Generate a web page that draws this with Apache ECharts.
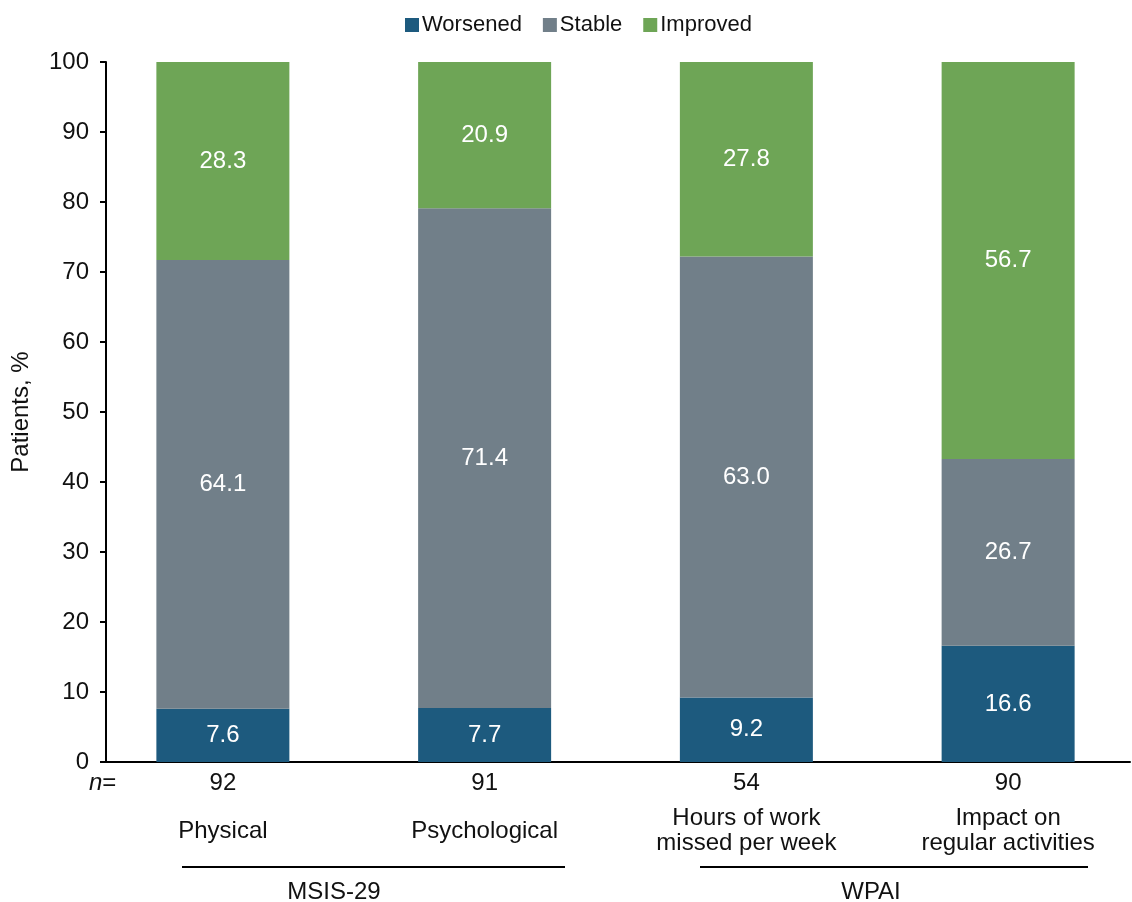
<!DOCTYPE html>
<html>
<head>
<meta charset="utf-8">
<script src="https://cdn.jsdelivr.net/npm/echarts@6/dist/echarts.min.js"></script>
<style>
html,body{margin:0;padding:0;background:#fff;}
#chart{width:1132px;height:902px;}
</style>
</head>
<body>
<div id="chart"></div>
<script>
var categories = ['Physical', 'Psychological', 'Hours of work\nmissed per week', 'Impact on\nregular activities'];
var nValues = ['92', '91', '54', '90'];
var worsened = [7.6, 7.7, 9.2, 16.6];
var stable = [64.1, 71.4, 63.0, 26.7];
var improved = [28.3, 20.9, 27.8, 56.7];
var yTicks = [0, 10, 20, 30, 40, 50, 60, 70, 80, 90, 100];
var groups = ['MSIS-29', 'WPAI'];

var FONT = '"Liberation Sans", Arial, Helvetica, sans-serif';
var colors = { w: '#1d5a7e', s: '#717f89', i: '#6ea556' };

var chart = echarts.init(document.getElementById('chart'));

function barSeries(name, data, color) {
  return {
    name: name,
    type: 'bar',
    stack: 'total',
    xAxisIndex: 0,
    yAxisIndex: 0,
    barWidth: 133,
    data: data,
    itemStyle: { color: color },
    label: {
      show: true,
      position: 'inside',
      color: '#fff',
      fontFamily: FONT,
      fontSize: 24,
      formatter: function (p) { return p.value.toFixed(1); }
    },
    emphasis: { disabled: true }
  };
}

var option = {
  animation: false,
  textStyle: { fontFamily: FONT },
  legend: {
    top: 9,
    left: 400,
    itemWidth: 14,
    itemHeight: 14,
    itemGap: 21,
    icon: 'rect',
    textStyle: { fontFamily: FONT, fontSize: 22, color: '#111', padding: [0, 0, 0, -2] },
    data: ['Worsened', 'Stable', 'Improved']
  },
  grid: [
    { left: 92, width: 1047, top: 62, bottom: 140, containLabel: false, outerBoundsMode: 'none' },
    { left: 106, right: 2, top: 62, bottom: 140, containLabel: false, outerBoundsMode: 'none' }
  ],
  xAxis: [
    {
      type: 'category', gridIndex: 0, data: categories,
      axisLine: { show: false }, axisTick: { show: false },
      axisLabel: {
        fontFamily: FONT, fontSize: 24, color: '#111', margin: 9,
        formatter: function (v, i) { return nValues[i]; }
      }
    },
    {
      type: 'category', gridIndex: 0, data: categories, position: 'bottom',
      axisLine: { show: false }, axisTick: { show: false },
      axisLabel: {
        fontFamily: FONT, fontSize: 24, color: '#111', margin: 69,
        lineHeight: 25, verticalAlign: 'middle'
      }
    },
    {
      type: 'value', gridIndex: 1, min: 0, max: 1,
      axisLine: { show: true, lineStyle: { color: '#000', width: 2 } },
      axisTick: { show: false }, axisLabel: { show: false }, splitLine: { show: false }
    }
  ],
  yAxis: [
    {
      type: 'value', gridIndex: 0, min: 0, max: 100, interval: 10,
      show: false, splitLine: { show: false }
    },
    {
      type: 'value', gridIndex: 1, min: yTicks[0], max: yTicks[yTicks.length - 1], interval: 10,
      name: 'Patients, %', nameLocation: 'middle', nameGap: 73,
      nameTextStyle: { fontFamily: FONT, fontSize: 24, color: '#111' },
      axisLine: { show: true, lineStyle: { color: '#000', width: 2 } },
      axisTick: { show: true, length: 6, lineStyle: { color: '#000', width: 2 } },
      axisLabel: { fontFamily: FONT, fontSize: 24, color: '#111', margin: 17 },
      splitLine: { show: false }
    }
  ],
  graphic: [
    { type: 'text', left: 89, top: 771, style: { text: '{i|n}=', rich: { i: { fontStyle: 'italic', fontFamily: FONT, fontSize: 24, fill: '#111' } }, fontFamily: FONT, fontSize: 24, fill: '#111' } },
    { type: 'line', shape: { x1: 182, y1: 867, x2: 565, y2: 867 }, style: { stroke: '#000', lineWidth: 2 } },
    { type: 'line', shape: { x1: 700, y1: 867, x2: 1088, y2: 867 }, style: { stroke: '#000', lineWidth: 2 } },
    { type: 'text', x: 334, y: 892, style: { text: groups[0], fontFamily: FONT, fontSize: 24, fill: '#111', align: 'center', verticalAlign: 'middle' } },
    { type: 'text', x: 871, y: 892, style: { text: groups[1], fontFamily: FONT, fontSize: 24, fill: '#111', align: 'center', verticalAlign: 'middle' } }
  ],
  series: [
    barSeries('Worsened', worsened, colors.w),
    barSeries('Stable', stable, colors.s),
    barSeries('Improved', improved, colors.i)
  ]
};

chart.setOption(option);
</script>
</body>
</html>
